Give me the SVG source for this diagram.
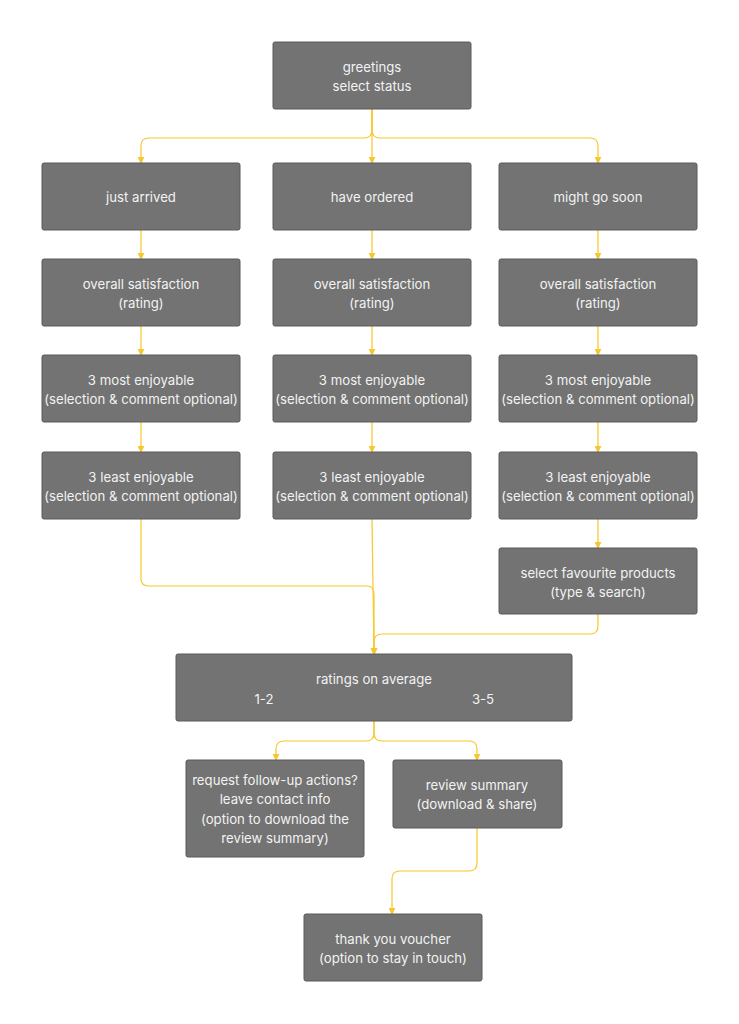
<svg xmlns="http://www.w3.org/2000/svg" width="739" height="1024" viewBox="0 0 739 1024">
<defs>
<style>
.n{fill:#737373;stroke:#5a5a5a;stroke-width:1}
.t{font-family:Inter,"Liberation Sans",sans-serif;font-size:13.2px;fill:#f2f2f2;text-anchor:middle}
.c{fill:none;stroke:#F7C72B;stroke-width:1.2}
</style>
<marker id="h" viewBox="0 0 8 8" refX="7" refY="4" markerWidth="7" markerHeight="7" orient="auto" markerUnits="userSpaceOnUse">
<path d="M0,0 L8,4 L0,8 Z" fill="#F7C72B"/>
</marker>
</defs>
<rect width="739" height="1024" fill="#ffffff"/>
<g id="connectors">
<path class="c" marker-end="url(#h)" d="M372,109 V130 Q372,138 364,138 H149 Q141,138 141,146 V163"/>
<path class="c" marker-end="url(#h)" d="M372,109 V163"/>
<path class="c" marker-end="url(#h)" d="M372,109 V130 Q372,138 380,138 H590 Q598,138 598,146 V163"/>
<path class="c" marker-end="url(#h)" d="M141,230 V259"/>
<path class="c" marker-end="url(#h)" d="M141,326 V355"/>
<path class="c" marker-end="url(#h)" d="M141,422 V452"/>
<path class="c" marker-end="url(#h)" d="M372,230 V259"/>
<path class="c" marker-end="url(#h)" d="M372,326 V355"/>
<path class="c" marker-end="url(#h)" d="M372,422 V452"/>
<path class="c" marker-end="url(#h)" d="M598,230 V259"/>
<path class="c" marker-end="url(#h)" d="M598,326 V355"/>
<path class="c" marker-end="url(#h)" d="M598,422 V452"/>
<path class="c" marker-end="url(#h)" d="M598,519 V548"/>
<path class="c" marker-end="url(#h)" d="M141,519 V579 Q141,586 149,586 H367 Q374,586 374,594 V654"/>
<path class="c" marker-end="url(#h)" d="M372,519 L374,654"/>
<path class="c" marker-end="url(#h)" d="M598,614 V626 Q598,634 590,634 H382 Q374,634 374,642 V654"/>
<path class="c" marker-end="url(#h)" d="M374,721 V733 Q374,741 366,741 H284 Q276,741 276,749 V760"/>
<path class="c" marker-end="url(#h)" d="M374,721 V733 Q374,741 382,741 H469 Q477,741 477,749 V760"/>
<path class="c" marker-end="url(#h)" d="M477,828 V863 Q477,871 469,871 H400 Q392,871 392,879 V914"/>
</g>
<g id="greetings"><rect class="n" x="273" y="42" width="198" height="67" rx="2"/><text class="t" x="372" y="72">greetings</text><text class="t" x="372" y="91">select status</text></g>
<g id="just-arrived"><rect class="n" x="42" y="163" width="198" height="67" rx="2"/><text class="t" x="141" y="202">just arrived</text></g>
<g id="have-ordered"><rect class="n" x="273" y="163" width="198" height="67" rx="2"/><text class="t" x="372" y="202">have ordered</text></g>
<g id="might-go-soon"><rect class="n" x="499" y="163" width="198" height="67" rx="2"/><text class="t" x="598" y="202">might go soon</text></g>
<g id="sat-1"><rect class="n" x="42" y="259" width="198" height="67" rx="2"/><text class="t" x="141" y="289">overall satisfaction</text><text class="t" x="141" y="308">(rating)</text></g>
<g id="sat-2"><rect class="n" x="273" y="259" width="198" height="67" rx="2"/><text class="t" x="372" y="289">overall satisfaction</text><text class="t" x="372" y="308">(rating)</text></g>
<g id="sat-3"><rect class="n" x="499" y="259" width="198" height="67" rx="2"/><text class="t" x="598" y="289">overall satisfaction</text><text class="t" x="598" y="308">(rating)</text></g>
<g id="most-1"><rect class="n" x="42" y="355" width="198" height="67" rx="2"/><text class="t" x="141" y="385">3 most enjoyable</text><text class="t" x="141" y="404">(selection &amp; comment optional)</text></g>
<g id="most-2"><rect class="n" x="273" y="355" width="198" height="67" rx="2"/><text class="t" x="372" y="385">3 most enjoyable</text><text class="t" x="372" y="404">(selection &amp; comment optional)</text></g>
<g id="most-3"><rect class="n" x="499" y="355" width="198" height="67" rx="2"/><text class="t" x="598" y="385">3 most enjoyable</text><text class="t" x="598" y="404">(selection &amp; comment optional)</text></g>
<g id="least-1"><rect class="n" x="42" y="452" width="198" height="67" rx="2"/><text class="t" x="141" y="482">3 least enjoyable</text><text class="t" x="141" y="501">(selection &amp; comment optional)</text></g>
<g id="least-2"><rect class="n" x="273" y="452" width="198" height="67" rx="2"/><text class="t" x="372" y="482">3 least enjoyable</text><text class="t" x="372" y="501">(selection &amp; comment optional)</text></g>
<g id="least-3"><rect class="n" x="499" y="452" width="198" height="67" rx="2"/><text class="t" x="598" y="482">3 least enjoyable</text><text class="t" x="598" y="501">(selection &amp; comment optional)</text></g>
<g id="favourites"><rect class="n" x="499" y="548" width="198" height="66" rx="2"/><text class="t" x="598" y="578">select favourite products</text><text class="t" x="598" y="597">(type &amp; search)</text></g>
<g id="ratings"><rect class="n" x="176" y="654" width="396" height="67" rx="2"/><text class="t" x="374" y="684">ratings on average</text><text class="t" x="264" y="704">1-2</text><text class="t" x="483" y="704">3-5</text></g>
<g id="follow-up"><rect class="n" x="186" y="760" width="178" height="97" rx="2"/><text class="t" x="275" y="785">request follow-up actions?</text><text class="t" x="275" y="804">leave contact info</text><text class="t" x="275" y="824">(option to download the</text><text class="t" x="275" y="843">review summary)</text></g>
<g id="review-summary"><rect class="n" x="393" y="760" width="169" height="68" rx="2"/><text class="t" x="477" y="790">review summary</text><text class="t" x="477" y="809">(download &amp; share)</text></g>
<g id="thank-you"><rect class="n" x="304" y="914" width="178" height="67" rx="2"/><text class="t" x="393" y="944">thank you voucher</text><text class="t" x="393" y="963">(option to stay in touch)</text></g>
</svg>
